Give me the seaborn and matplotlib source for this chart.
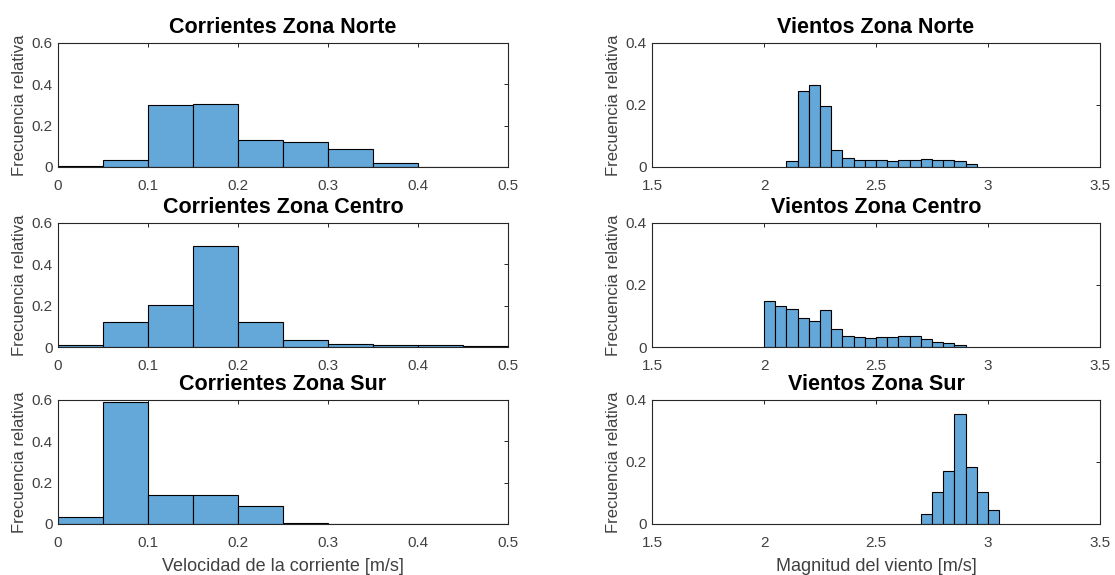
import numpy as np
import pandas as pd
import matplotlib
matplotlib.use("Agg")
import matplotlib.pyplot as plt
import matplotlib.ticker as mticker
import seaborn as sns

# relative frequencies (bin width 0.05 everywhere)
bin_width = 0.05

corr_start = 0.0
corr_norte = [0.003, 0.032, 0.298, 0.303, 0.129, 0.120, 0.087, 0.019, 0.002, 0.002]
corr_centro = [0.008, 0.123, 0.202, 0.490, 0.123, 0.032, 0.013, 0.008, 0.008, 0.003]
corr_sur = [0.036, 0.589, 0.139, 0.139, 0.087, 0.005, 0.001, 0.001, 0.001, 0.001]

viento_norte_start = 2.10
viento_norte = [0.019, 0.245, 0.265, 0.198, 0.055, 0.028, 0.023, 0.023, 0.023,
                0.019, 0.023, 0.023, 0.026, 0.024, 0.024, 0.019, 0.010]
viento_centro_start = 2.00
viento_centro = [0.147, 0.131, 0.123, 0.094, 0.085, 0.119, 0.058, 0.035, 0.032,
                 0.029, 0.032, 0.032, 0.035, 0.035, 0.026, 0.016, 0.013, 0.006]
viento_sur_start = 2.70
viento_sur = [0.032, 0.104, 0.172, 0.356, 0.185, 0.104, 0.045]

titles_corr = ["Corrientes Zona Norte", "Corrientes Zona Centro", "Corrientes Zona Sur"]
titles_viento = ["Vientos Zona Norte", "Vientos Zona Centro", "Vientos Zona Sur"]

sns.set_theme(style="white")
plt.rcParams["font.family"] = ["Liberation Sans", "DejaVu Sans"]

bar_color = "#63a8d8"
axis_gray = "#262626"
tick_gray = "#404040"

fig = plt.figure(figsize=(11.15, 5.75), dpi=100)

left_x = [0.052, 0.5848]
widths = [0.4036, 0.4018]
bottoms = [0.7096, 0.3965, 0.0887]
height = 0.2157


def draw_hist(ax, start, freqs, title, xlim, xticks, ylim, yticks):
    edges = start + bin_width * np.arange(len(freqs) + 1)
    df = pd.DataFrame({"centro": (edges[:-1] + edges[1:]) / 2, "frec": freqs})
    sns.histplot(data=df, x="centro", weights="frec", bins=edges.tolist(), ax=ax,
                 color=bar_color, edgecolor="black", linewidth=0.8, alpha=1.0)
    ax.set_xlim(*xlim)
    ax.set_ylim(*ylim)
    ax.set_xticks(xticks)
    ax.set_yticks(yticks)
    fmt = mticker.FuncFormatter(lambda v, p: "%g" % round(v, 3))
    ax.xaxis.set_major_formatter(fmt)
    ax.yaxis.set_major_formatter(fmt)
    ax.set_title(title, fontsize=15.5, fontweight="bold", color="black", pad=7.5)
    ax.set_ylabel("Frecuencia relativa", fontsize=12, color=tick_gray, labelpad=3)
    ax.set_xlabel("")
    ax.tick_params(direction="in", top=True, right=True, length=3, width=0.7,
                   labelsize=11, labelcolor=tick_gray, color=axis_gray)
    ax.tick_params(axis="x", pad=8.5)
    ax.tick_params(axis="y", pad=4)
    for s in ax.spines.values():
        s.set_color(axis_gray)
        s.set_linewidth(0.8)


corr_data = [corr_norte, corr_centro, corr_sur]
viento_data = [viento_norte, viento_centro, viento_sur]
viento_starts = [viento_norte_start, viento_centro_start, viento_sur_start]

for i in range(3):
    ax = fig.add_axes([left_x[0], bottoms[i], widths[0], height])
    draw_hist(ax, corr_start, corr_data[i], titles_corr[i], (0, 0.5),
              np.arange(0, 0.51, 0.1), (0, 0.6), [0, 0.2, 0.4, 0.6])
    if i == 2:
        ax.set_xlabel("Velocidad de la corriente [m/s]", fontsize=13,
                      color=tick_gray, labelpad=6)

    ax = fig.add_axes([left_x[1], bottoms[i], widths[1], height])
    draw_hist(ax, viento_starts[i], viento_data[i], titles_viento[i], (1.5, 3.5),
              [1.5, 2, 2.5, 3, 3.5], (0, 0.4), [0, 0.2, 0.4])
    if i == 2:
        ax.set_xlabel("Magnitud del viento [m/s]", fontsize=13,
                      color=tick_gray, labelpad=6)

fig.savefig("out.png", dpi=100)
